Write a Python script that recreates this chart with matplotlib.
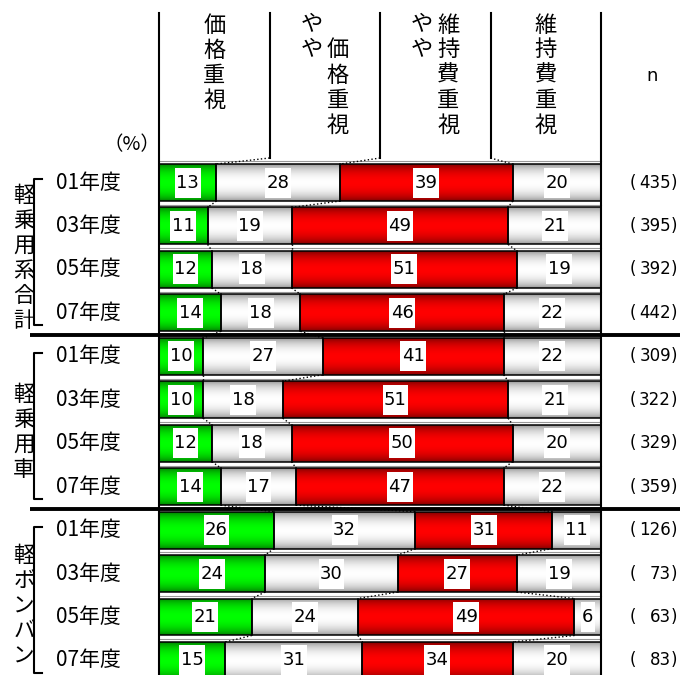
import numpy as np
import matplotlib
matplotlib.use("Agg")
import matplotlib.pyplot as plt
from matplotlib.patches import Rectangle

plt.rcParams['font.family'] = ['Noto Sans CJK JP', 'DejaVu Sans']
NUM_FONT = ['DejaVu Sans', 'Noto Sans CJK JP']

# ---- data ----
groups = ['軽乗用系合計', '軽乗用車', '軽ボンバン']
years = ['01年度', '03年度', '05年度', '07年度']
headers = ['価格重視', 'やや価格重視', 'やや維持費重視', '維持費重視']
price = [13, 11, 12, 14, 10, 10, 12, 14, 26, 24, 21, 15]
some_price = [28, 19, 18, 18, 27, 18, 18, 17, 32, 30, 24, 31]
some_maint = [39, 49, 51, 46, 41, 51, 50, 47, 31, 27, 49, 34]
maint = [20, 21, 19, 22, 22, 21, 20, 22, 11, 19, 6, 20]
n_vals = [435, 395, 392, 442, 309, 322, 329, 359, 126, 73, 63, 83]

series = [price, some_price, some_maint, maint]
dark = [(0, 0.45, 0), (0.55, 0.55, 0.55), (0.45, 0, 0), (0.55, 0.55, 0.55)]
bright = [(0, 1, 0), (1, 1, 1), (1, 0, 0), (1, 1, 1)]

W, H = 680, 675
X0, XW = 159, 442          # pixel extent of 0..100 %
Y0, DY = 182.5, 43.45      # pixel centre of first row, row pitch
BH = 0.85

fig = plt.figure(figsize=(W / 100, H / 100), dpi=100)
ax = fig.add_axes([0, 0, 1, 1])
ax.set_xlim(-X0 / XW * 100, (W - X0) / XW * 100)
ax.set_ylim((H - Y0) / DY, -Y0 / DY)
ax.axis('off')

nrows = len(price)
rows = np.arange(nrows)
vals = np.array(series, dtype=float)
cum = np.vstack([np.zeros(nrows), np.cumsum(vals, axis=0)])

t = np.linspace(0, 1, 80)
w = np.sin(np.pi * t) ** 0.6

# faint lines just above each bar
for r in rows:
    ax.plot([0, 100], [r - BH / 2 - 0.06] * 2, color='0.6', lw=0.8, zorder=1)

labels = []
for k in range(4):
    bars = ax.barh(rows, vals[k], left=cum[k], height=BH, facecolor='none',
                   edgecolor='black', linewidth=1.1, zorder=3)
    grad = np.array(dark[k])[None, :] + (np.array(bright[k]) - np.array(dark[k]))[None, :] * w[:, None]
    grad = grad[:, None, :]
    for rect in bars:
        x, y = rect.get_x(), rect.get_y()
        im = ax.imshow(grad, extent=[x, x + rect.get_width(), y + BH, y],
                       aspect='auto', interpolation='bilinear', zorder=2)
        im.set_clip_path(rect)
    for r in rows:
        txt = ax.text(cum[k][r] + vals[k][r] / 2, r, f'{int(vals[k][r])}',
                      ha='center', va='center', fontsize=13, zorder=5,
                      family=NUM_FONT)
        labels.append(txt)

# white boxes behind value labels
renderer = fig.canvas.get_renderer()
for txt in labels:
    bb = txt.get_window_extent(renderer)
    bw = (bb.width + 3) / XW * 100
    bh = 30 / DY
    xc, yc = txt.get_position()
    ax.add_patch(Rectangle((xc - bw / 2, yc - bh / 2), bw, bh, fc='white',
                           ec='none', zorder=4))

# dotted connectors between rows
for r in range(nrows - 1):
    for k in range(1, 4):
        ax.plot([cum[k][r], cum[k][r + 1]], [r + BH / 2, r + 1 - BH / 2],
                color='black', lw=1, ls=':', zorder=1)

# header
top = -(Y0 - 13) / DY
hb = -(Y0 - 158) / DY
for k, xv in enumerate([0, 25, 50, 75, 100]):
    ybot = (H - Y0) / DY if xv in (0, 100) else hb
    ax.plot([xv, xv], [top, ybot], color='black', lw=1.5, zorder=4)
for k in range(1, 4):
    ax.plot([25 * k, cum[k][0]], [hb, -BH / 2], color='black', lw=1, ls=':', zorder=1)

ytr = ax.get_yaxis_transform()
step = 25 / DY
def vtext(xd, y_first, s, size=16):
    for i, ch in enumerate(s):
        ax.text(xd, y_first + i * step, ch, ha='center', va='center', fontsize=size)

c0 = -(Y0 - 25) / DY
off = 13 / XW * 100
for k, h in enumerate(headers):
    xc = 12.5 + 25 * k
    if h.startswith('やや'):
        vtext(xc - off, c0, 'やや')
        rest = h[2:]
        vtext(xc + off, c0 + (step if k == 1 else 0), rest)
    else:
        vtext(xc, c0, h)

ax.text(652 / W, -(Y0 - 76) / DY, 'n', transform=ytr, ha='center', va='center',
        fontsize=13, family=NUM_FONT)
ax.text(131.5 / W, -(Y0 - 145) / DY, '（%）', transform=ytr, ha='center', va='center', fontsize=14)

# row labels and n
for r in rows:
    ax.text(56 / W, r, years[r % 4], transform=ytr, ha='left', va='center', fontsize=15)
    ax.text(630 / W, r, '(', transform=ytr, ha='left', va='center', fontsize=12, family=NUM_FONT)
    ax.text(671 / W, r, f'{n_vals[r]}', transform=ytr, ha='right', va='center',
            fontsize=12, family=NUM_FONT)
    ax.text(671 / W, r, ')', transform=ytr, ha='left', va='center', fontsize=12, family=NUM_FONT)

# group labels, brackets, separators
for g, name in enumerate(groups):
    r0, r1 = 4 * g, 4 * g + 3
    mid = (r0 + r1) / 2 + 0.25
    y_first = mid - (len(name) - 1) / 2 * step
    for i, ch in enumerate(name):
        ax.text(24 / W, y_first + i * step, ch, transform=ytr, ha='center',
                va='center', fontsize=15.5)
    bx = 34 / W
    ax.plot([42 / W, bx, bx, 42 / W], [r0 - 0.08, r0 - 0.08, r1 + 0.28, r1 + 0.28],
            transform=ytr, color='black', lw=1.5)
    if g > 0:
        ax.plot([30 / W, 1], [r0 - BH / 2 - 0.06] * 2, transform=ytr,
                color='black', lw=2.8, zorder=6, solid_capstyle='butt')

fig.savefig('out.png', dpi=100)
